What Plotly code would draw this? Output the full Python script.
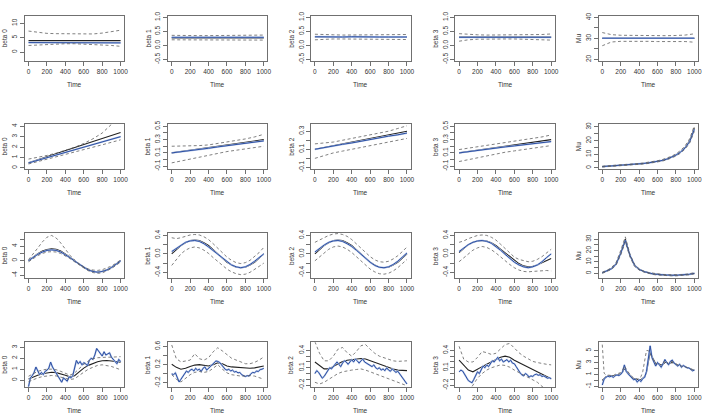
import plotly.graph_objects as go

# ---------------- time grids & x ticks ----------------
T100 = [0, 100, 200, 300, 400, 500, 600, 700, 800, 900, 1000]
T50 = [0, 50, 100, 150, 200, 250, 300, 350, 400, 450, 500, 550, 600, 650, 700, 750, 800, 850, 900, 950, 1000]
T20 = [0, 20, 40, 60, 80, 100, 120, 140, 160, 180, 200, 220, 240, 260, 280, 300, 320, 340, 360, 380,
       400, 420, 440, 460, 480, 500, 520, 540, 560, 580, 600, 620, 640, 660, 680, 700, 720, 740, 760, 780,
       800, 820, 840, 860, 880, 900, 920, 940, 960, 980, 1000]
XTICKS = [0, 200, 400, 600, 800, 1000]
XTICKTEXT = ["0", "200", "400", "600", "800", "1000"]

# ---------------- row 1 (constant coefficients) ----------------
r1b0_true = [4.0, 4.0, 4.0, 4.0, 4.0, 4.0, 4.0, 4.0, 4.0, 4.0, 4.0]
r1b0_est = [3.3, 3.3, 3.2, 3.2, 3.3, 3.3, 3.2, 3.2, 3.3, 3.2, 3.2]
r1b0_up = [7.3, 6.9, 6.5, 6.4, 6.4, 6.3, 6.2, 6.3, 6.6, 7.0, 7.6]
r1b0_lo = [2.3, 2.5, 2.7, 2.8, 2.9, 2.9, 2.8, 2.7, 2.6, 2.3, 2.0]

r1b1_true = [0.27, 0.27, 0.27, 0.27, 0.27, 0.27, 0.27, 0.27, 0.27, 0.27, 0.27]
r1b1_est = [0.29, 0.29, 0.28, 0.28, 0.29, 0.29, 0.28, 0.28, 0.28, 0.29, 0.29]
r1b1_up = [0.36, 0.35, 0.35, 0.35, 0.35, 0.35, 0.35, 0.35, 0.35, 0.36, 0.37]
r1b1_lo = [0.2, 0.2, 0.21, 0.21, 0.21, 0.21, 0.21, 0.2, 0.2, 0.19, 0.19]

r1b2_true = [0.3, 0.3, 0.3, 0.3, 0.3, 0.3, 0.3, 0.3, 0.3, 0.3, 0.3]
r1b2_est = [0.31, 0.3, 0.3, 0.3, 0.31, 0.3, 0.3, 0.3, 0.3, 0.3, 0.3]
r1b2_up = [0.4, 0.38, 0.38, 0.37, 0.37, 0.37, 0.37, 0.37, 0.38, 0.38, 0.39]
r1b2_lo = [0.2, 0.22, 0.23, 0.23, 0.23, 0.23, 0.23, 0.23, 0.22, 0.22, 0.21]

r1b3_true = [0.3, 0.3, 0.3, 0.3, 0.3, 0.3, 0.3, 0.3, 0.3, 0.3, 0.3]
r1b3_est = [0.29, 0.29, 0.3, 0.3, 0.29, 0.29, 0.3, 0.3, 0.29, 0.29, 0.29]
r1b3_up = [0.42, 0.39, 0.38, 0.37, 0.37, 0.37, 0.37, 0.38, 0.38, 0.39, 0.41]
r1b3_lo = [0.15, 0.2, 0.22, 0.23, 0.23, 0.23, 0.23, 0.22, 0.22, 0.21, 0.19]

r1mu_true = [30.0, 30.0, 30.0, 30.0, 30.0, 30.0, 30.0, 30.0, 30.0, 30.0, 30.0]
r1mu_est = [30.1, 30.1, 30.0, 30.1, 30.1, 30.0, 30.0, 30.1, 30.1, 30.0, 30.1]
r1mu_up = [32.8, 31.8, 31.5, 31.4, 31.3, 31.2, 31.2, 31.3, 31.4, 31.6, 32.2]
r1mu_lo = [26.5, 28.3, 28.6, 28.7, 28.7, 28.6, 28.5, 28.6, 28.6, 28.5, 28.2]

# ---------------- row 2 (trending coefficients) ----------------
r2b0_true = [0.5, 0.78, 1.07, 1.36, 1.65, 1.95, 2.24, 2.53, 2.82, 3.11, 3.4]
r2b0_est = [0.48, 0.73, 0.98, 1.24, 1.49, 1.75, 2.0, 2.25, 2.5, 2.75, 3.0]
r2b0_up = [0.85, 1.0, 1.2, 1.42, 1.68, 1.98, 2.35, 2.8, 3.35, 4.1, 5.0]
r2b0_lo = [0.38, 0.6, 0.83, 1.06, 1.29, 1.52, 1.75, 1.99, 2.22, 2.46, 2.7]

r2b1_true = [0.1, 0.12, 0.14, 0.16, 0.18, 0.2, 0.22, 0.24, 0.26, 0.28, 0.3]
r2b1_est = [0.1, 0.115, 0.13, 0.15, 0.17, 0.19, 0.21, 0.225, 0.24, 0.26, 0.28]
r2b1_up = [0.2, 0.2, 0.2, 0.21, 0.22, 0.24, 0.26, 0.28, 0.31, 0.34, 0.38]
r2b1_lo = [-0.05, -0.02, 0.01, 0.04, 0.07, 0.1, 0.12, 0.14, 0.16, 0.18, 0.2]

r2b2_true = [0.1, 0.12, 0.14, 0.16, 0.18, 0.2, 0.22, 0.24, 0.26, 0.28, 0.3]
r2b2_est = [0.1, 0.12, 0.135, 0.155, 0.17, 0.19, 0.21, 0.23, 0.245, 0.26, 0.28]
r2b2_up = [0.16, 0.17, 0.18, 0.2, 0.22, 0.24, 0.26, 0.28, 0.3, 0.33, 0.36]
r2b2_lo = [0.0, 0.03, 0.06, 0.08, 0.1, 0.12, 0.14, 0.16, 0.18, 0.2, 0.22]

r2b3_true = [0.1, 0.12, 0.14, 0.16, 0.18, 0.2, 0.22, 0.24, 0.26, 0.28, 0.3]
r2b3_est = [0.1, 0.12, 0.135, 0.155, 0.17, 0.19, 0.205, 0.22, 0.24, 0.255, 0.27]
r2b3_up = [0.15, 0.17, 0.19, 0.21, 0.23, 0.25, 0.27, 0.29, 0.31, 0.34, 0.37]
r2b3_lo = [-0.03, 0.0, 0.03, 0.06, 0.09, 0.11, 0.13, 0.15, 0.17, 0.19, 0.21]

r2mu_true = [1.0, 1.2, 1.4, 1.6, 1.8, 2.0, 2.3, 2.6, 2.9, 3.3, 3.7, 4.2, 4.8, 5.5, 6.5, 7.8, 9.5, 11.8, 15.0, 20.0, 29.5]
r2mu_est = [1.0, 1.2, 1.4, 1.6, 1.8, 2.0, 2.3, 2.6, 2.9, 3.3, 3.7, 4.2, 4.8, 5.5, 6.4, 7.7, 9.4, 11.6, 14.7, 19.4, 28.3]
r2mu_up = [1.3, 1.5, 1.7, 1.9, 2.1, 2.4, 2.7, 3.0, 3.3, 3.7, 4.1, 4.7, 5.3, 6.1, 7.1, 8.5, 10.3, 12.8, 16.2, 21.5, 31.0]
r2mu_lo = [0.7, 0.9, 1.1, 1.3, 1.5, 1.7, 1.9, 2.2, 2.5, 2.9, 3.3, 3.8, 4.3, 5.0, 5.9, 7.1, 8.7, 10.8, 13.8, 18.4, 26.8]

# ---------------- row 3 (cyclical coefficients) ----------------
r3b0_true = [0.0, 1.0, 1.95, 2.65, 3.1, 3.3, 3.15, 2.7, 1.95, 1.0, 0.0, -1.0, -1.9, -2.55, -2.95, -3.1, -2.95, -2.55, -1.9, -1.0, 0.0]
r3b0_est = [0.0, 0.9, 1.75, 2.4, 2.85, 3.0, 2.85, 2.4, 1.7, 0.85, -0.1, -1.0, -1.9, -2.6, -3.0, -3.2, -3.0, -2.6, -1.9, -1.0, -0.1]
r3b0_up = [0.3, 1.8, 3.5, 5.2, 6.5, 7.0, 6.3, 4.9, 3.2, 1.5, 0.2, -0.9, -1.7, -2.3, -2.6, -2.7, -2.5, -2.1, -1.5, -0.7, 0.2]
r3b0_lo = [-0.3, 0.6, 1.4, 2.0, 2.4, 2.5, 2.4, 2.0, 1.4, 0.6, -0.3, -1.2, -2.1, -2.8, -3.3, -3.5, -3.4, -2.9, -2.2, -1.3, -0.4]

r3b1_true = [0.0, 0.09, 0.18, 0.24, 0.29, 0.3, 0.29, 0.24, 0.18, 0.09, 0.0, -0.09, -0.18, -0.24, -0.29, -0.3, -0.29, -0.24, -0.18, -0.09, 0.0]
r3b1_est = [0.05, 0.12, 0.19, 0.25, 0.28, 0.29, 0.27, 0.22, 0.15, 0.07, -0.02, -0.1, -0.18, -0.24, -0.28, -0.3, -0.28, -0.23, -0.16, -0.08, 0.0]
r3b1_up = [0.35, 0.33, 0.35, 0.38, 0.41, 0.42, 0.41, 0.37, 0.31, 0.22, 0.12, 0.02, -0.07, -0.14, -0.19, -0.21, -0.19, -0.14, -0.06, 0.03, 0.14]
r3b1_lo = [-0.25, -0.12, 0.0, 0.08, 0.13, 0.15, 0.13, 0.08, 0.01, -0.08, -0.17, -0.26, -0.33, -0.39, -0.43, -0.45, -0.44, -0.4, -0.34, -0.27, -0.2]

r3b2_true = [0.0, 0.09, 0.18, 0.24, 0.29, 0.3, 0.29, 0.24, 0.18, 0.09, 0.0, -0.09, -0.18, -0.24, -0.29, -0.3, -0.29, -0.24, -0.18, -0.09, 0.0]
r3b2_est = [0.04, 0.12, 0.19, 0.25, 0.28, 0.29, 0.27, 0.22, 0.16, 0.08, -0.01, -0.1, -0.18, -0.25, -0.29, -0.3, -0.28, -0.23, -0.16, -0.07, 0.02]
r3b2_up = [0.25, 0.3, 0.35, 0.4, 0.43, 0.44, 0.42, 0.38, 0.31, 0.22, 0.12, 0.02, -0.06, -0.13, -0.17, -0.18, -0.16, -0.11, -0.04, 0.05, 0.15]
r3b2_lo = [-0.15, -0.06, 0.03, 0.1, 0.15, 0.17, 0.15, 0.1, 0.03, -0.06, -0.16, -0.25, -0.33, -0.39, -0.43, -0.44, -0.42, -0.37, -0.3, -0.21, -0.12]

r3b3_true = [0.03, 0.12, 0.2, 0.25, 0.28, 0.29, 0.28, 0.24, 0.18, 0.1, 0.02, -0.07, -0.15, -0.21, -0.26, -0.28, -0.27, -0.24, -0.19, -0.14, -0.1]
r3b3_est = [0.05, 0.13, 0.2, 0.25, 0.28, 0.29, 0.27, 0.23, 0.16, 0.08, -0.01, -0.1, -0.18, -0.24, -0.28, -0.3, -0.28, -0.24, -0.17, -0.08, 0.0]
r3b3_up = [0.25, 0.28, 0.33, 0.37, 0.4, 0.41, 0.4, 0.36, 0.3, 0.21, 0.11, 0.01, -0.07, -0.12, -0.15, -0.17, -0.16, -0.12, -0.06, 0.02, 0.1]
r3b3_lo = [-0.17, -0.08, 0.0, 0.08, 0.13, 0.16, 0.14, 0.09, 0.02, -0.07, -0.15, -0.23, -0.3, -0.35, -0.38, -0.39, -0.38, -0.37, -0.36, -0.36, -0.37]

r3mu_true = [0.5, 2.0, 4.2, 8.4, 18.0, 30.0, 15.5, 7.0, 3.4, 1.5, 0.3, -0.5, -1.0, -1.4, -1.6, -1.7, -1.7, -1.6, -1.3, -0.8, 0.0]
r3mu_est = [0.5, 2.0, 4.0, 8.0, 17.5, 29.0, 16.0, 7.2, 3.5, 1.6, 0.3, -0.5, -1.0, -1.4, -1.6, -1.7, -1.7, -1.6, -1.3, -0.8, 0.0]
r3mu_up = [1.0, 2.6, 5.0, 9.5, 20.0, 32.0, 17.0, 8.0, 4.0, 2.0, 0.8, 0.0, -0.6, -1.0, -1.2, -1.3, -1.3, -1.2, -0.9, -0.4, 0.5]
r3mu_lo = [0.0, 1.5, 3.4, 7.2, 16.0, 27.5, 14.5, 6.2, 2.9, 1.1, -0.2, -1.0, -1.5, -1.9, -2.1, -2.2, -2.2, -2.1, -1.8, -1.3, -0.5]

# ---------------- row 4 (irregular coefficients) ----------------
r4b0_true = [0.1, 0.3, 0.45, 0.58, 0.68, 0.72, 0.68, 0.58, 0.45, 0.3, 0.4, 0.75, 1.1, 1.35, 1.55, 1.68, 1.78, 1.8, 1.75, 1.7, 1.65]
r4b0_up = [0.35, 0.6, 0.8, 0.92, 1.0, 1.0, 0.95, 0.8, 0.6, 0.45, 0.65, 1.05, 1.45, 1.75, 1.95, 2.05, 2.1, 2.1, 2.1, 2.1, 2.15]
r4b0_lo = [-0.15, 0.05, 0.2, 0.32, 0.4, 0.42, 0.38, 0.28, 0.15, 0.05, 0.12, 0.38, 0.72, 1.0, 1.2, 1.35, 1.4, 1.35, 1.25, 1.1, 0.95]
r4b0_est = [-0.6, 0.2, 0.4, 0.7, 1.2, 0.8, 0.5, 0.7, 0.5, 0.8,
            0.9, 1.1, 1.65, 1.2, 0.9, 0.6, 0.4, 0.0, -0.2, 0.2,
            0.0, -0.1, 0.3, 0.2, 0.4, 1.2, 1.8, 1.5, 1.7, 1.4,
            1.6, 1.5, 1.3, 1.8, 2.0, 1.9, 2.3, 2.9, 2.7, 2.5,
            2.2, 2.6, 2.3, 2.4, 2.5, 2.1, 1.9, 1.6, 1.5, 1.9,
            1.7]

r4b1_true = [0.21, 0.14, 0.1, 0.12, 0.16, 0.19, 0.2, 0.19, 0.17, 0.2, 0.24, 0.22, 0.17, 0.15, 0.14, 0.13, 0.12, 0.12, 0.13, 0.15, 0.17]
r4b1_up = [0.63, 0.33, 0.26, 0.28, 0.3, 0.44, 0.33, 0.3, 0.35, 0.48, 0.57, 0.5, 0.42, 0.34, 0.3, 0.26, 0.22, 0.22, 0.25, 0.3, 0.37]
r4b1_lo = [-0.02, -0.12, -0.18, -0.1, -0.02, 0.03, 0.05, 0.03, 0.05, 0.12, 0.2, 0.1, 0.02, -0.02, -0.04, -0.05, -0.05, -0.04, -0.05, -0.08, -0.12]
r4b1_est = [0.0, -0.02, 0.02, -0.08, -0.18, -0.12, -0.06, 0.02, 0.06, 0.03,
            0.08, 0.1, 0.06, 0.12, 0.08, 0.1, 0.05, 0.12, 0.15, 0.08,
            0.12, 0.16, 0.2, 0.24, 0.28, 0.27, 0.25, 0.2, 0.14, 0.1,
            0.08, 0.1, 0.06, 0.08, 0.04, 0.05, 0.02, 0.03, -0.02, -0.05,
            -0.06, -0.04, -0.05, 0.0, 0.03, 0.02, 0.06, 0.05, 0.09, 0.1,
            0.12]

r4b2_true = [0.2, 0.14, 0.08, 0.08, 0.12, 0.17, 0.21, 0.23, 0.24, 0.25, 0.26, 0.25, 0.22, 0.19, 0.16, 0.13, 0.1, 0.08, 0.06, 0.05, 0.05]
r4b2_up = [0.55, 0.35, 0.22, 0.22, 0.3, 0.42, 0.45, 0.36, 0.3, 0.38, 0.48, 0.5, 0.42, 0.35, 0.3, 0.27, 0.24, 0.22, 0.21, 0.21, 0.22]
r4b2_lo = [-0.15, -0.18, -0.15, -0.1, -0.04, 0.0, 0.03, 0.05, 0.06, 0.07, 0.08, 0.06, 0.03, 0.0, -0.03, -0.06, -0.09, -0.12, -0.15, -0.18, -0.21]
r4b2_est = [0.0, 0.05, 0.02, -0.04, -0.08, -0.05, 0.0, 0.05, 0.1, 0.08,
            0.12, 0.15, 0.2, 0.16, 0.12, 0.18, 0.22, 0.2, 0.16, 0.2,
            0.24, 0.2, 0.25, 0.22, 0.18, 0.22, 0.25, 0.2, 0.18, 0.16,
            0.14, 0.12, 0.15, 0.1, 0.08, 0.1, 0.06, 0.08, 0.05, 0.1,
            0.06, 0.04, 0.08, 0.05, 0.02, 0.04, 0.0, -0.04, -0.08, -0.14,
            -0.18]

r4b3_true = [0.23, 0.15, 0.06, 0.03, 0.08, 0.12, 0.16, 0.2, 0.24, 0.28, 0.3, 0.28, 0.23, 0.19, 0.15, 0.11, 0.07, 0.03, -0.01, -0.05, -0.09]
r4b3_up = [0.47, 0.25, 0.2, 0.2, 0.28, 0.38, 0.36, 0.33, 0.35, 0.42, 0.5, 0.52, 0.44, 0.36, 0.3, 0.25, 0.21, 0.19, 0.17, 0.16, 0.15]
r4b3_lo = [-0.35, -0.35, -0.32, -0.2, -0.08, 0.0, 0.06, 0.1, 0.13, 0.15, 0.14, 0.11, 0.06, 0.02, -0.02, -0.06, -0.1, -0.15, -0.22, -0.28, -0.35]
r4b3_est = [0.03, 0.06, 0.04, -0.02, -0.08, -0.12, -0.14, -0.16, -0.1, -0.04,
            0.03, 0.0, 0.08, 0.13, 0.1, 0.15, 0.12, 0.18, 0.22, 0.2,
            0.25, 0.28, 0.22, 0.25, 0.2, 0.22, 0.24, 0.2, 0.23, 0.18,
            0.17, 0.12, 0.06, 0.02, -0.02, -0.04, 0.0, -0.02, -0.06, -0.04,
            -0.05, -0.02, -0.01, -0.03, -0.02, -0.05, -0.04, -0.06, -0.08, -0.07,
            -0.09]

r4mu_true = [0.0, 0.4, 0.6, 0.7, 0.7, 0.7, 0.7, 0.8, 0.9, 1.0,
             1.1, 1.4, 2.0, 1.6, 1.2, 0.8, 0.5, 0.3, 0.2, 0.1,
             0.1, 0.1, 0.3, 0.6, 1.3, 3.5, 4.8, 4.0, 3.3, 2.8,
             2.8, 2.7, 2.6, 2.7, 3.0, 3.0, 2.8, 2.9, 3.0, 2.9,
             2.7, 2.6, 2.6, 2.4, 2.4, 2.3, 2.2, 2.1, 1.9, 1.8,
             1.7]
r4mu_est = [-0.8, 0.2, 0.5, 0.7, 0.6, 0.7, 0.5, 0.8, 0.9, 0.8,
            1.0, 1.4, 2.6, 1.5, 1.1, 0.7, 0.4, 0.1, 0.2, -0.3,
            0.1, -0.2, 0.3, 0.5, 1.5, 4.2, 5.8, 3.8, 3.2, 2.4,
            3.0, 2.6, 2.2, 2.8, 3.5, 3.0, 2.6, 3.2, 3.4, 2.9,
            2.6, 2.4, 2.7, 2.2, 2.5, 2.3, 2.1, 2.1, 1.8, 1.6,
            1.7]
r4mu_dash = [6.0, 1.2, 0.9, 0.9, 0.8, 0.9, 0.8, 1.0, 1.1, 1.1,
             1.3, 1.7, 2.4, 1.9, 1.4, 1.0, 0.7, 0.4, 0.3, 0.2,
             0.3, 0.6, 1.5, 3.0, 5.0, 5.0, 4.5, 3.8, 3.3, 2.7,
             3.0, 2.8, 2.5, 2.9, 3.3, 3.1, 2.8, 3.1, 3.2, 3.0,
             2.7, 2.5, 2.6, 2.3, 2.4, 2.3, 2.1, 2.1, 1.9, 1.7,
             1.8]

# ---------------- y-axis settings ----------------
Y_LABELS = ["beta 0", "beta 1", "beta 2", "beta 3", "Mu"]

# ---------------- styles ----------------
FONT = "Liberation Sans, Arial, sans-serif"
FS = 6.5
TXT = "#333333"
AXC = "#707070"
BLACK = dict(color="#222222", width=1.1)
BLUE_HALO = dict(color="#b4c5e6", width=1.8)
BLUE = dict(color="#2c4fa3", width=1.0)
DASH = dict(color="#606060", width=0.8, dash="3px,2.5px")

panels = [
    # row 1
    dict(r=0, c=0, yr=[-3.1, 12.6], tv=[0, 5, 10], tt=["0", "5", "10"],
         lines=[(T100, r1b0_true, "k"), (T100, r1b0_est, "b"), (T100, r1b0_up, "d"), (T100, r1b0_lo, "d")]),
    dict(r=0, c=1, yr=[-0.56, 1.06], tv=[-0.5, 0, 0.5, 1.0], tt=["-0.5", "0.0", "0.5", "1.0"],
         lines=[(T100, r1b1_true, "k"), (T100, r1b1_est, "b"), (T100, r1b1_up, "d"), (T100, r1b1_lo, "d")]),
    dict(r=0, c=2, yr=[-0.56, 1.06], tv=[-0.5, 0, 0.5, 1.0], tt=["-0.5", "0.0", "0.5", "1.0"],
         lines=[(T100, r1b2_true, "k"), (T100, r1b2_est, "b"), (T100, r1b2_up, "d"), (T100, r1b2_lo, "d")]),
    dict(r=0, c=3, yr=[-0.56, 1.06], tv=[-0.5, 0, 0.5, 1.0], tt=["-0.5", "0.0", "0.5", "1.0"],
         lines=[(T100, r1b3_true, "k"), (T100, r1b3_est, "b"), (T100, r1b3_up, "d"), (T100, r1b3_lo, "d")]),
    dict(r=0, c=4, yr=[19.2, 40.8], tv=[20, 25, 30, 35, 40], tt=["20", "", "30", "", "40"],
         lines=[(T100, r1mu_true, "k"), (T100, r1mu_est, "b"), (T100, r1mu_up, "d"), (T100, r1mu_lo, "d")]),
    # row 2
    dict(r=1, c=0, yr=[-0.12, 4.22], tv=[0, 1, 2, 3, 4], tt=["0", "1", "2", "3", "4"],
         lines=[(T100, r2b0_true, "k"), (T100, r2b0_est, "b"), (T100, r2b0_up, "d"), (T100, r2b0_lo, "d")]),
    dict(r=1, c=1, yr=[-0.145, 0.535], tv=[-0.1, 0, 0.1, 0.2, 0.3, 0.4, 0.5],
         tt=["-0.1", "", "0.1", "", "0.3", "", "0.5"],
         lines=[(T100, r2b1_true, "k"), (T100, r2b1_est, "b"), (T100, r2b1_up, "d"), (T100, r2b1_lo, "d")]),
    dict(r=1, c=2, yr=[-0.12, 0.38], tv=[-0.1, 0, 0.1, 0.2, 0.3], tt=["-0.1", "", "0.1", "", "0.3"],
         lines=[(T100, r2b2_true, "k"), (T100, r2b2_est, "b"), (T100, r2b2_up, "d"), (T100, r2b2_lo, "d")]),
    dict(r=1, c=3, yr=[-0.145, 0.535], tv=[-0.1, 0, 0.1, 0.2, 0.3, 0.4, 0.5],
         tt=["-0.1", "", "0.1", "", "0.3", "", "0.5"],
         lines=[(T100, r2b3_true, "k"), (T100, r2b3_est, "b"), (T100, r2b3_up, "d"), (T100, r2b3_lo, "d")]),
    dict(r=1, c=4, yr=[-0.9, 32.2], tv=[0, 5, 10, 15, 20, 25, 30], tt=["0", "", "10", "", "20", "", "30"],
         lines=[(T50, r2mu_true, "k"), (T50, r2mu_est, "b"), (T50, r2mu_up, "d"), (T50, r2mu_lo, "d")]),
    # row 3
    dict(r=2, c=0, yr=[-4.9, 7.65], tv=[-4, -2, 0, 2, 4, 6], tt=["-4", "", "0", "", "4", ""],
         lines=[(T50, r3b0_true, "k"), (T50, r3b0_est, "b"), (T50, r3b0_up, "d"), (T50, r3b0_lo, "d")]),
    dict(r=2, c=1, yr=[-0.53, 0.45], tv=[-0.4, -0.2, 0, 0.2, 0.4], tt=["-0.4", "", "0.0", "", "0.4"],
         lines=[(T50, r3b1_true, "k"), (T50, r3b1_est, "b"), (T50, r3b1_up, "d"), (T50, r3b1_lo, "d")]),
    dict(r=2, c=2, yr=[-0.53, 0.45], tv=[-0.4, -0.2, 0, 0.2, 0.4], tt=["-0.4", "", "0.0", "", "0.4"],
         lines=[(T50, r3b2_true, "k"), (T50, r3b2_est, "b"), (T50, r3b2_up, "d"), (T50, r3b2_lo, "d")]),
    dict(r=2, c=3, yr=[-0.53, 0.45], tv=[-0.4, -0.2, 0, 0.2, 0.4], tt=["-0.4", "", "0.0", "", "0.4"],
         lines=[(T50, r3b3_true, "k"), (T50, r3b3_est, "b"), (T50, r3b3_up, "d"), (T50, r3b3_lo, "d")]),
    dict(r=2, c=4, yr=[-4.4, 35.3], tv=[0, 5, 10, 15, 20, 25, 30], tt=["0", "", "10", "", "20", "", "30"],
         lines=[(T50, r3mu_true, "k"), (T50, r3mu_est, "b"), (T50, r3mu_up, "d"), (T50, r3mu_lo, "d")]),
    # row 4
    dict(r=3, c=0, yr=[-0.68, 3.47], tv=[0, 1, 2, 3], tt=["0", "1", "2", "3"],
         lines=[(T50, r4b0_true, "k"), (T20, r4b0_est, "b"), (T50, r4b0_up, "d"), (T50, r4b0_lo, "d")]),
    dict(r=3, c=1, yr=[-0.3, 0.69], tv=[-0.2, 0, 0.2, 0.4, 0.6], tt=["-0.2", "", "0.2", "", "0.6"],
         lines=[(T50, r4b1_true, "k"), (T20, r4b1_est, "b"), (T50, r4b1_up, "d"), (T50, r4b1_lo, "d")]),
    dict(r=3, c=2, yr=[-0.24, 0.54], tv=[-0.2, -0.1, 0, 0.1, 0.2, 0.3, 0.4],
         tt=["-0.2", "", "", "0.1", "", "", "0.4"],
         lines=[(T50, r4b2_true, "k"), (T20, r4b2_est, "b"), (T50, r4b2_up, "d"), (T50, r4b2_lo, "d")]),
    dict(r=3, c=3, yr=[-0.24, 0.54], tv=[-0.2, -0.1, 0, 0.1, 0.2, 0.3, 0.4],
         tt=["-0.2", "", "", "0.1", "", "", "0.4"],
         lines=[(T50, r4b3_true, "k"), (T20, r4b3_est, "b"), (T50, r4b3_up, "d"), (T50, r4b3_lo, "d")]),
    dict(r=3, c=4, yr=[-1.2, 6.4], tv=[-1, 0, 1, 2, 3, 4, 5], tt=["-1", "", "1", "", "3", "", "5"],
         lines=[(T20, r4mu_true, "k"), (T20, r4mu_est, "b"), (T20, r4mu_dash, "d")]),
]

W, H = 708, 419
COL_LEFT = [25, 169, 313, 458, 602]
ROW_TOP = [12, 122, 233, 344]
PW, PH = 100, 46

fig = go.Figure()
annotations = []
for i, p in enumerate(panels):
    n = i + 1
    sx = "" if n == 1 else str(n)
    xa, ya = "x" + sx, "y" + sx
    for (xs, ys, kind) in p["lines"]:
        assert len(xs) == len(ys), (n, len(xs), len(ys))
        if kind == "b":
            fig.add_trace(go.Scatter(x=xs, y=ys, mode="lines", line=BLUE_HALO, xaxis=xa, yaxis=ya,
                                     showlegend=False, hoverinfo="skip"))
            fig.add_trace(go.Scatter(x=xs, y=ys, mode="lines", line=BLUE, xaxis=xa, yaxis=ya,
                                     showlegend=False, hoverinfo="skip"))
        elif kind == "k":
            fig.add_trace(go.Scatter(x=xs, y=ys, mode="lines", line=BLACK, xaxis=xa, yaxis=ya,
                                     showlegend=False, hoverinfo="skip"))
        else:
            fig.add_trace(go.Scatter(x=xs, y=ys, mode="lines", line=DASH, xaxis=xa, yaxis=ya,
                                     showlegend=False, hoverinfo="skip"))
    l = COL_LEFT[p["c"]]
    t = ROW_TOP[p["r"]]
    xdom = [l / W, (l + PW) / W]
    ydom = [1 - (t + PH) / H, 1 - t / H]
    common = dict(showline=True, mirror=True, linecolor=AXC, linewidth=1, ticks="outside", ticklen=4,
                  tickcolor=AXC, tickwidth=1, showgrid=False, zeroline=False,
                  tickfont=dict(family=FONT, size=FS, color=TXT))
    fig.update_layout(**{
        "xaxis" + sx: dict(domain=xdom, range=[-40, 1040], anchor=ya, tickmode="array",
                           tickvals=XTICKS, ticktext=XTICKTEXT, **common),
        "yaxis" + sx: dict(domain=ydom, range=p["yr"], anchor=xa, tickmode="array",
                           tickvals=p["tv"], ticktext=p["tt"], tickangle=-90, **common),
    })
    annotations.append(dict(text="Time", xref=xa + " domain", yref=ya + " domain", x=0.5, y=0,
                            yshift=-23, showarrow=False, xanchor="center", yanchor="middle",
                            font=dict(family=FONT, size=FS, color=TXT)))
    annotations.append(dict(text=Y_LABELS[p["c"]], xref=xa + " domain", yref=ya + " domain", x=0, y=0.5,
                            xshift=-20, textangle=-90, showarrow=False, xanchor="center", yanchor="middle",
                            font=dict(family=FONT, size=FS, color=TXT)))

fig.update_layout(width=W, height=H, margin=dict(l=0, r=0, t=0, b=0), paper_bgcolor="white",
                  plot_bgcolor="white", annotations=annotations, showlegend=False,
                  font=dict(family=FONT, size=FS, color=TXT))
fig.write_html("out.html")
